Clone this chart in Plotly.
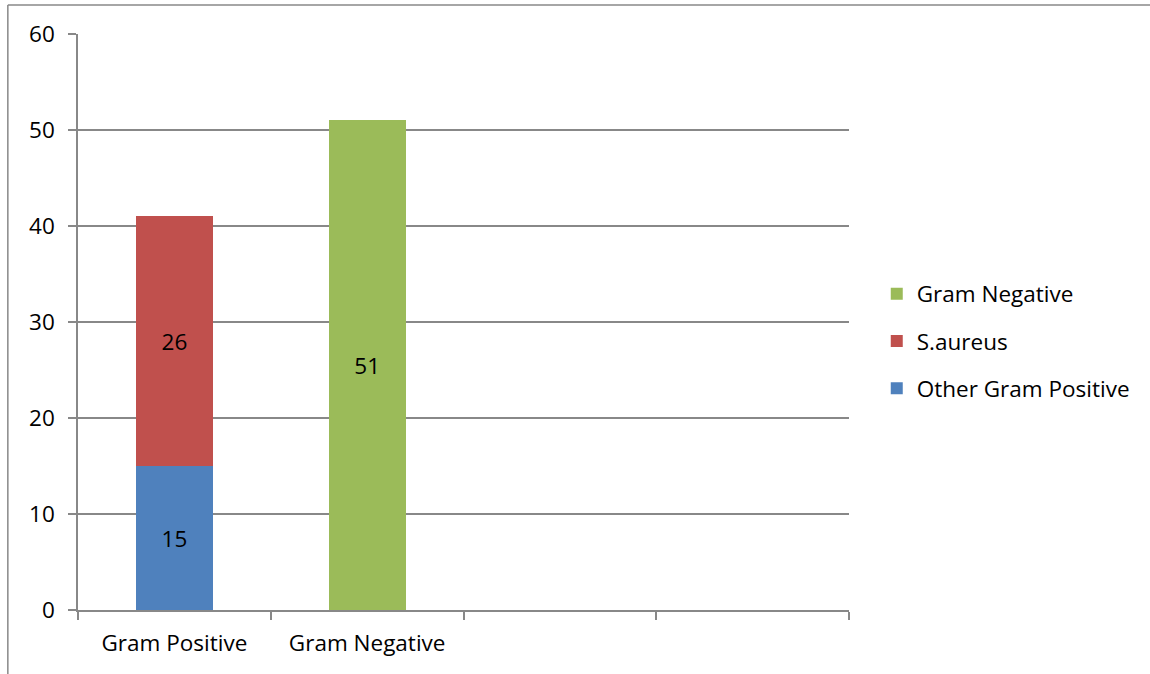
import plotly.graph_objects as go

# Chart data
categories = ["Gram Positive", "Gram Negative"]
other_gram_positive = [15, None]
s_aureus = [26, None]
gram_negative = [None, 51]
y_ticks = [0, 10, 20, 30, 40, 50, 60]

blue = "#4F81BD"
red = "#C0504D"
green = "#9BBB59"
grid = "#888888"
font_family = "'Open Sans', Lato, sans-serif"
fsize = 22.5

x_pos = list(range(len(categories)))

fig = go.Figure()
series = [
    ("Other Gram Positive", other_gram_positive, blue, 3),
    ("S.aureus", s_aureus, red, 2),
    ("Gram Negative", gram_negative, green, 1),
]
for name, vals, color, rank in series:
    fig.add_trace(go.Bar(
        x=x_pos, y=vals, name=name, legendgroup=name, legendrank=rank,
        marker=dict(color=color, line=dict(width=0)),
        width=0.4,
        text=[("" if v is None else str(v)) for v in vals],
        textposition="inside", insidetextanchor="middle",
        textfont=dict(color="black", size=fsize, family=font_family),
        cliponaxis=False,
    ))

fig.update_layout(
    width=1150, height=674,
    margin=dict(l=78, r=301, t=34, b=64),
    barmode="stack",
    plot_bgcolor="white", paper_bgcolor="white",
    font=dict(family=font_family, size=fsize, color="black"),
    showlegend=True,
    legend=dict(
        x=1.036, xanchor="left", y=0.467, yanchor="middle",
        traceorder="grouped", tracegroupgap=15,
        font=dict(size=fsize, color="black"),
        itemwidth=30, bgcolor="rgba(0,0,0,0)",
    ),
    uniformtext=dict(mode=False),
)

fig.update_xaxes(
    range=[-0.5, 3.5],
    tickvals=x_pos, ticktext=categories, ticks="",
    showgrid=False, zeroline=False,
    showline=True, linecolor=grid, linewidth=1.5,
    minor=dict(tickvals=[-0.5, 0.5, 1.5, 2.5, 3.5], ticks="outside",
               ticklen=8, tickcolor=grid, tickwidth=1.5, showgrid=False),
    tickfont=dict(size=fsize), ticklabelstandoff=12,
)
fig.update_yaxes(
    range=[0, 60], tickvals=y_ticks,
    ticks="outside", ticklen=8, tickcolor=grid, tickwidth=1.5,
    showgrid=True, gridcolor=grid, gridwidth=1.5,
    zeroline=False,
    showline=True, linecolor=grid, linewidth=1.5,
    tickfont=dict(size=fsize), ticklabelstandoff=9,
)

# Outer chart frame
fig.add_shape(type="line", xref="paper", yref="paper",
              x0=-0.091, x1=1.392, y0=1.0503, y1=1.0503,
              line=dict(color=grid, width=1.5))
fig.add_shape(type="line", xref="paper", yref="paper",
              x0=-0.091, x1=-0.091, y0=1.0503, y1=-0.2,
              line=dict(color=grid, width=1.5))

fig.write_html("out.html")
